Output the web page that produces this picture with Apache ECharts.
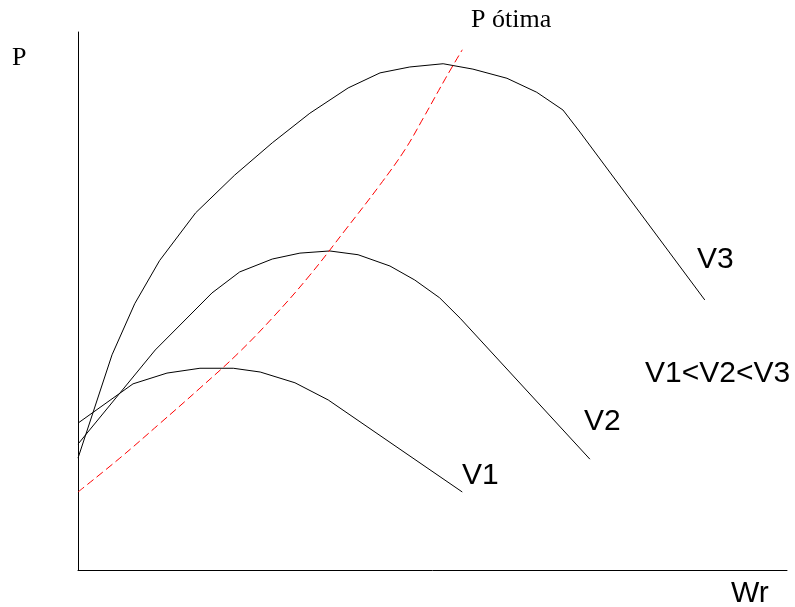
<!DOCTYPE html>
<html>
<head>
<meta charset="utf-8">
<script src="https://cdn.jsdelivr.net/npm/echarts@6/dist/echarts.min.js"></script>
<style>
  html, body { margin: 0; padding: 0; background: #ffffff; }
  #chart { width: 795px; height: 607px; }
</style>
</head>
<body>
<div id="chart"></div>
<script>
// Power curves P(Wr) for three wind speeds, plus the optimum-power locus.
// Values are in arbitrary units (x: 0-100 of Wr, y: 0-100 of P).
var v1Wr = [0, 7.76, 12.55, 17.2, 21.9, 25.7, 30.6, 35.3, 54.2];
var v1P  = [27.3, 34.6, 36.6, 37.5, 37.5, 36.8, 34.8, 31.6, 14.5];

var v2Wr = [0, 10.9, 18.9, 22.8, 27.4, 31.3, 35.5, 39.5, 44.0, 47.5, 51.0, 53.9, 72.2];
var v2P  = [23.4, 40.9, 51.5, 55.4, 57.8, 58.9, 59.3, 58.6, 56.5, 53.9, 50.6, 46.8, 20.6];

var v3Wr = [0, 4.8, 8.0, 11.5, 16.6, 22.1, 27.4, 32.7, 38.1, 42.6, 46.8, 51.5, 55.7, 60.5, 64.7, 68.4, 70.8, 88.4];
var v3P  = [20.8, 40.0, 49.5, 57.5, 66.4, 73.4, 79.4, 84.9, 89.6, 92.4, 93.5, 94.1, 93.1, 91.4, 88.8, 85.5, 81.4, 50.2];

var optWr = [0, 5.9, 11.6, 17.2, 22.6, 27.8, 32.7, 37.7, 42.6, 46.1, 48.7, 51.8, 54.2];
var optP  = [14.5, 20.8, 27.3, 33.8, 40.3, 47.4, 54.8, 63.2, 71.6, 78.1, 84.0, 91.3, 96.7];

var curveNames = ['V1', 'V2', 'V3'];

function pairs(xs, ys) {
  return xs.map(function (x, i) { return [x, ys[i]]; });
}

var chart = echarts.init(document.getElementById('chart'), null, { renderer: 'canvas' });

var blackLine = { color: '#000000', width: 1 };
var sans = '30px "Liberation Sans", Arial, sans-serif';
var serif = '26px "Liberation Serif", "Times New Roman", serif';

function label(x, y, text, font) {
  return {
    type: 'text', left: x, top: y, silent: true,
    style: { text: text, font: font, fill: '#000000', verticalAlign: 'top' }
  };
}

chart.setOption({
  animation: false,
  backgroundColor: '#ffffff',
  grid: { left: 78, top: 32, right: 8, bottom: 37, containLabel: false },
  xAxis: {
    type: 'value', min: 0, max: 100,
    axisLine: { show: true, onZero: false, lineStyle: { color: '#000000', width: 1 } },
    axisTick: { show: false }, axisLabel: { show: false }, splitLine: { show: false }
  },
  yAxis: {
    type: 'value', min: 0, max: 100,
    axisLine: { show: true, onZero: false, lineStyle: { color: '#000000', width: 1 } },
    axisTick: { show: false }, axisLabel: { show: false }, splitLine: { show: false }
  },
  series: [
    { name: curveNames[0], type: 'line', data: pairs(v1Wr, v1P), showSymbol: false, lineStyle: blackLine },
    { name: curveNames[1], type: 'line', data: pairs(v2Wr, v2P), showSymbol: false, lineStyle: blackLine },
    { name: curveNames[2], type: 'line', data: pairs(v3Wr, v3P), showSymbol: false, lineStyle: blackLine },
    {
      name: 'P ótima', type: 'line', data: pairs(optWr, optP), showSymbol: false, smooth: 0.4,
      lineStyle: { color: '#ff0000', width: 1, type: [8, 4] }
    }
  ],
  graphic: [
    label(12, 45, 'P', serif),
    label(471, 7, 'P ótima', serif),
    label(697, 245, 'V3', sans),
    label(645, 359, 'V1<V2<V3', sans),
    label(584, 407, 'V2', sans),
    label(462, 461, 'V1', sans),
    label(731, 579, 'Wr', sans)
  ]
});
</script>
</body>
</html>
